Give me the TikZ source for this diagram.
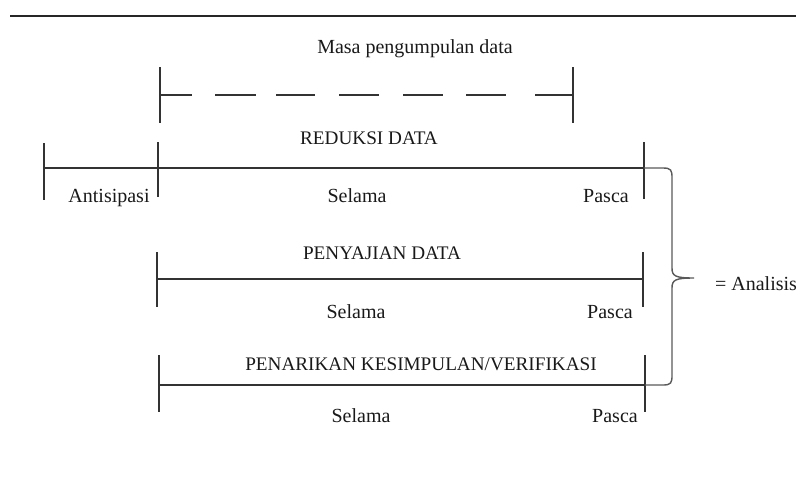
\documentclass[tikz,border=0pt]{standalone}
\usepackage{fontspec}
\setmainfont{Liberation Serif}
\begin{document}
\begin{tikzpicture}[x=0.5pt,y=-0.5pt,
  ln/.style={draw=black!80,line width=0.75pt},
  lbl/.style={anchor=base,inner sep=0pt,text=black!90,font=\fontsize{10}{12}\selectfont},
  caplbl/.style={lbl,font=\fontsize{9.6}{11}\selectfont}]
\useasboundingbox (0,0) rectangle (801,477);
% top rule
\coordinate (r0) at (10,16);
\coordinate (r1) at (796,16);
\draw[black!85,line width=1pt] (r0) -- (r1);
% data collection period
\node[lbl] (masa) at (415,53) {Masa pengumpulan data};
\coordinate (m1t) at (160,67); \coordinate (m1b) at (160,123);
\coordinate (m2t) at (573,67); \coordinate (m2b) at (573,123);
\coordinate (m1) at (160,95); \coordinate (m2) at (573,95);
\draw[ln] (m1t) -- (m1b);
\draw[ln] (m2t) -- (m2b);
\draw[ln,dash pattern=on 16pt off 11.5pt on 20.5pt off 10pt on 19.5pt off 12pt on 20pt off 12pt on 20pt off 11.5pt on 20pt off 14.5pt on 20pt] (m1) -- (m2);
% row 1
\node[caplbl] (red) at (369,144) {REDUKSI DATA};
\coordinate (a0t) at (44,143); \coordinate (a0b) at (44,200);
\coordinate (a1t) at (158,142); \coordinate (a1b) at (158,197);
\coordinate (a2t) at (644,142); \coordinate (a2b) at (644,199);
\coordinate (a0) at (44,168); \coordinate (a2) at (644,168);
\draw[ln] (a0t) -- (a0b);
\draw[ln] (a1t) -- (a1b);
\draw[ln] (a2t) -- (a2b);
\draw[ln] (a0) -- (a2);
\node[lbl] (ant) at (109,202) {Antisipasi};
\node[lbl] (sel1) at (357,202) {Selama};
\node[lbl] (pas1) at (606,202) {Pasca};
% row 2
\node[caplbl] (pen) at (382,259) {PENYAJIAN DATA};
\coordinate (b1t) at (157,252); \coordinate (b1b) at (157,307);
\coordinate (b2t) at (643,252); \coordinate (b2b) at (643,307);
\coordinate (b1) at (157,279); \coordinate (b2) at (643,279);
\draw[ln] (b1t) -- (b1b);
\draw[ln] (b2t) -- (b2b);
\draw[ln] (b1) -- (b2);
\node[lbl] (sel2) at (356,318) {Selama};
\node[lbl] (pas2) at (610,318) {Pasca};
% row 3
\node[caplbl] (pnk) at (421,370) {PENARIKAN KESIMPULAN/VERIFIKASI};
\coordinate (c1t) at (159,355); \coordinate (c1b) at (159,412);
\coordinate (c2t) at (645,355); \coordinate (c2b) at (645,412);
\coordinate (c1) at (159,385); \coordinate (c2) at (645,385);
\draw[ln] (c1t) -- (c1b);
\draw[ln] (c2t) -- (c2b);
\draw[ln] (c1) -- (c2);
\node[lbl] (sel3) at (361,422) {Selama};
\node[lbl] (pas3) at (615,422) {Pasca};
% brace
\coordinate (tip) at (694,278);
\draw[draw=black!65,line width=0.7pt] (a2) -- (663,168) .. controls (671,168) and (672,170) .. (672,178)
  -- (672,268) .. controls (672,276) and (675,278) .. (tip)
  .. controls (675,278) and (672,280) .. (672,288)
  -- (672,375) .. controls (672,383) and (671,385) .. (663,385) -- (c2);
\node[lbl] (ana) at (756,290) {= Analisis};
\end{tikzpicture}
\end{document}
